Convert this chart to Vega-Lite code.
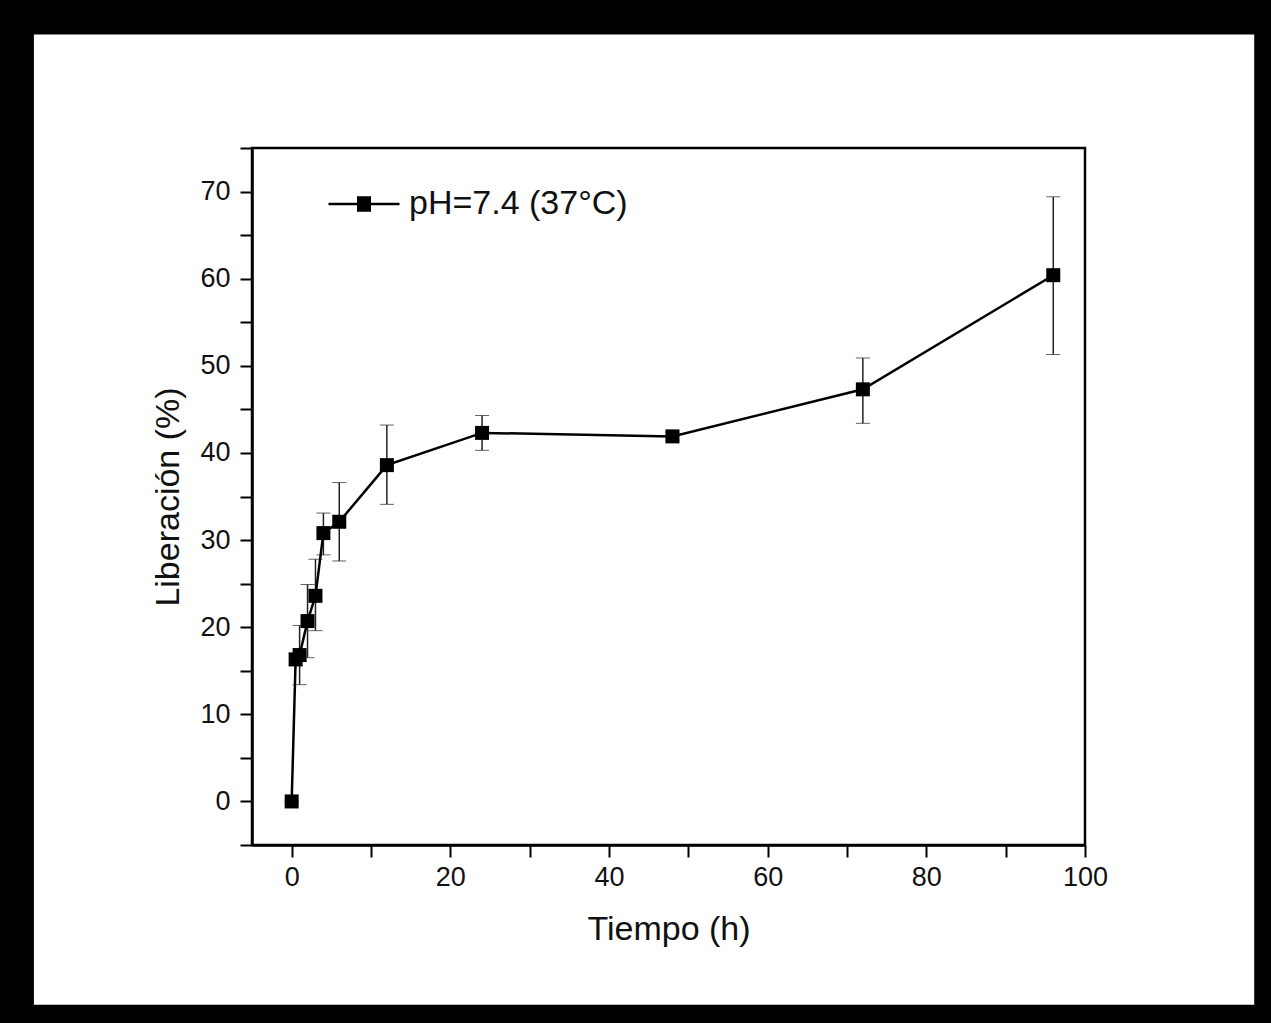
{
  "$schema": "https://vega.github.io/schema/vega-lite/v6.json",
  "width": 833,
  "height": 697,
  "autosize": {"type": "none"},
  "padding": {"left": 252, "top": 148, "right": 186, "bottom": 178},
  "background": "black",
  "config": {
    "view": {"stroke": null},
    "font": "Liberation Sans"
  },
  "data": {
    "values": [
      {"t": 0, "y": 0, "lo": 0, "hi": 0, "serie": "pH=7.4 (37°C)"},
      {"t": 0.5, "y": 16.3, "lo": 15.6, "hi": 17.0, "serie": "pH=7.4 (37°C)"},
      {"t": 1, "y": 16.8, "lo": 13.4, "hi": 20.2, "serie": "pH=7.4 (37°C)"},
      {"t": 2, "y": 20.7, "lo": 16.5, "hi": 24.9, "serie": "pH=7.4 (37°C)"},
      {"t": 3, "y": 23.6, "lo": 19.6, "hi": 27.8, "serie": "pH=7.4 (37°C)"},
      {"t": 4, "y": 30.8, "lo": 28.3, "hi": 33.1, "serie": "pH=7.4 (37°C)"},
      {"t": 6, "y": 32.1, "lo": 27.6, "hi": 36.6, "serie": "pH=7.4 (37°C)"},
      {"t": 12, "y": 38.6, "lo": 34.1, "hi": 43.2, "serie": "pH=7.4 (37°C)"},
      {"t": 24, "y": 42.3, "lo": 40.3, "hi": 44.3, "serie": "pH=7.4 (37°C)"},
      {"t": 48, "y": 41.9, "lo": 41.4, "hi": 42.4, "serie": "pH=7.4 (37°C)"},
      {"t": 72, "y": 47.3, "lo": 43.4, "hi": 50.9, "serie": "pH=7.4 (37°C)"},
      {"t": 96, "y": 60.4, "lo": 51.3, "hi": 69.4, "serie": "pH=7.4 (37°C)"}
    ]
  },
  "layer": [
    {
      "mark": {"type": "point", "shape": "square", "filled": true, "size": 196, "color": "black", "opacity": 1},
      "encoding": {
        "x": {
          "field": "t", "type": "quantitative", "title": "Tiempo (h)",
          "scale": {"domain": [-5, 100], "nice": false, "zero": false},
          "axis": {
            "title": "Tiempo (h)", "orient": "bottom", "domain": true, "domainColor": "black", "domainWidth": 2.5,
            "grid": false, "zindex": 1,
            "values": [0, 10, 20, 30, 40, 50, 60, 70, 80, 90, 100],
            "labelExpr": "datum.value % 20 === 0 ? datum.label : ''",
            "tickSize": 12, "tickWidth": 2, "tickColor": "black",
            "encode": {"ticks": {"update": {"y2": {"signal": "datum.value % 20 === 0 ? 12 : 7"}}}},
            "labelFont": "Liberation Sans", "labelFontSize": 27, "labelColor": "#111", "labelPadding": 7,
            "labelFlush": false, "labelOverlap": false,
            "titleFont": "Liberation Sans", "titleFontSize": 34, "titleFontWeight": "normal", "titleColor": "#111",
            "titlePadding": 22
          }
        },
        "y": {
          "field": "y", "type": "quantitative", "title": "Liberación (%)",
          "scale": {"domain": [-5, 75], "nice": false, "zero": false},
          "axis": {
            "title": "Liberación (%)", "orient": "left", "domain": true, "domainColor": "black", "domainWidth": 2.5,
            "grid": false, "zindex": 1,
            "values": [-5, 0, 5, 10, 15, 20, 25, 30, 35, 40, 45, 50, 55, 60, 65, 70, 75],
            "labelExpr": "datum.value % 10 === 0 ? datum.label : ''",
            "tickSize": 12, "tickWidth": 2, "tickColor": "black",
            "encode": {"ticks": {"update": {"x2": {"signal": "datum.value % 10 === 0 ? -12 : -7"}}}},
            "labelFont": "Liberation Sans", "labelFontSize": 27, "labelColor": "#111", "labelPadding": 10,
            "labelFlush": false, "labelOverlap": false,
            "titleFont": "Liberation Sans", "titleFontSize": 34, "titleFontWeight": "normal", "titleColor": "#111",
            "titlePadding": 14
          }
        }
      }
    },
    {
      "mark": {"type": "rect", "fill": "white", "stroke": null, "clip": false},
      "data": {"values": [{}]},
      "encoding": {
        "x": {"datum": -32.49, "type": "quantitative", "title": "Tiempo (h)"},
        "x2": {"datum": 121.33},
        "y": {"datum": -23.34, "type": "quantitative", "title": "Liberación (%)"},
        "y2": {"datum": 88.02}
      }
    },
    {
      "mark": {"type": "errorbar", "ticks": {"size": 14, "color": "#222", "strokeWidth": 1.5}, "rule": {"color": "#222", "strokeWidth": 1.5}},
      "encoding": {
        "x": {"field": "t", "type": "quantitative", "title": "Tiempo (h)"},
        "y": {"field": "lo", "type": "quantitative", "title": "Liberación (%)"},
        "y2": {"field": "hi"}
      }
    },
    {
      "mark": {"type": "line", "strokeWidth": 2.5},
      "encoding": {
        "x": {"field": "t", "type": "quantitative", "title": "Tiempo (h)"},
        "y": {"field": "y", "type": "quantitative", "title": "Liberación (%)"},
        "color": {
          "field": "serie", "type": "nominal",
          "scale": {"range": ["black"]},
          "legend": {
            "orient": "none", "legendX": 75, "legendY": 19, "title": null, "padding": 0,
            "symbolType": "M-1,0H1M-0.197,-0.18H0.197M-0.197,-0.13H0.197M-0.197,-0.08H0.197M-0.197,-0.03H0.197M-0.197,0.03H0.197M-0.197,0.08H0.197M-0.197,0.13H0.197M-0.197,0.18H0.197",
            "symbolSize": 5041, "symbolStrokeWidth": 2.5, "symbolStrokeColor": "black", "symbolFillColor": "black",
            "labelFont": "Liberation Sans", "labelFontSize": 34, "labelColor": "#111", "labelOffset": 8, "labelLimit": 500
          }
        }
      }
    },
    {
      "mark": {"type": "point", "shape": "square", "filled": true, "size": 196, "color": "black", "opacity": 1},
      "encoding": {
        "x": {"field": "t", "type": "quantitative", "title": "Tiempo (h)"},
        "y": {"field": "y", "type": "quantitative", "title": "Liberación (%)"}
      }
    },
    {
      "mark": {"type": "rect", "fill": null, "fillOpacity": 0, "stroke": "black", "strokeWidth": 2.5},
      "data": {"values": [{}]},
      "encoding": {
        "x": {"datum": -5, "type": "quantitative", "title": "Tiempo (h)"},
        "x2": {"datum": 100},
        "y": {"datum": -5, "type": "quantitative", "title": "Liberación (%)"},
        "y2": {"datum": 75}
      }
    }
  ]
}
